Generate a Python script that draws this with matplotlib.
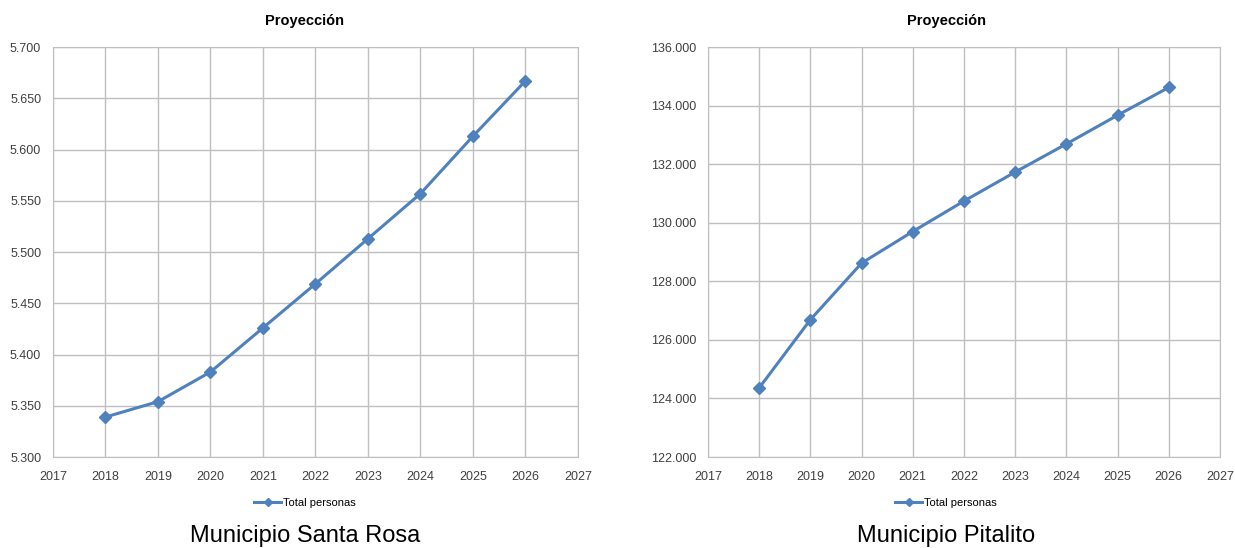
import matplotlib.pyplot as plt
from matplotlib.ticker import FuncFormatter, MultipleLocator
from matplotlib.lines import Line2D

years = [2018, 2019, 2020, 2021, 2022, 2023, 2024, 2025, 2026]
santa_rosa = [5339, 5354, 5383, 5426, 5469, 5513, 5557, 5613, 5667]
pitalito = [124360, 126690, 128620, 129700, 130740, 131730, 132690, 133670, 134620]
captions = ["Municipio Santa Rosa", "Municipio Pitalito"]

plt.rcParams['font.family'] = ['Liberation Sans', 'DejaVu Sans']

W, H = 1235, 548
fig = plt.figure(figsize=(W / 100, H / 100), dpi=100)

blue = '#4F81BD'
grid_c = '#BFBFBF'


def thousands(v, pos):
    return f"{int(round(v)):,}".replace(",", ".")


# (axes left, axes right, data, y range, y step, caption, centre of the chart block)
panels = [
    (53, 578, santa_rosa, (5300, 5700), 50, captions[0], 305),
    (708, 1220, pitalito, (122000, 136000), 2000, captions[1], 946),
]

for x0, x1, vals, ylim, step, cap, cx in panels:
    ax = fig.add_axes([x0 / W, 1 - 457 / H, (x1 - x0) / W, (457 - 47) / H])
    ax.plot(years, vals, color=blue, lw=2.2, marker='D', ms=6.5)
    ax.set_xlim(2017, 2027)
    ax.set_ylim(*ylim)
    ax.xaxis.set_major_locator(MultipleLocator(1))
    ax.yaxis.set_major_locator(MultipleLocator(step))
    ax.yaxis.set_major_formatter(FuncFormatter(thousands))
    ax.grid(True, color=grid_c, lw=1)
    ax.set_axisbelow(True)
    for s in ax.spines.values():
        s.set_color(grid_c)
    ax.tick_params(axis='y', length=0, labelsize=9, colors='#404040', pad=8.5)
    ax.tick_params(axis='x', length=0, labelsize=9, colors='#404040', pad=10)

    fig.text(cx / W, 1 - 21 / H, 'Proyección', ha='center', va='center',
             fontsize=10.5, fontweight='bold')

    handle = Line2D([], [], color=blue, lw=2.2, marker='D', ms=4.5)
    fig.legend([handle], ['Total personas'], loc='center',
               bbox_to_anchor=(cx / W, 1 - 503 / H), frameon=False,
               fontsize=8, handlelength=2.4, handletextpad=0.2)

    fig.text(cx / W, 1 - 536 / H, cap, ha='center', va='center', fontsize=17)

fig.savefig('out.png', dpi=100, facecolor='white')
